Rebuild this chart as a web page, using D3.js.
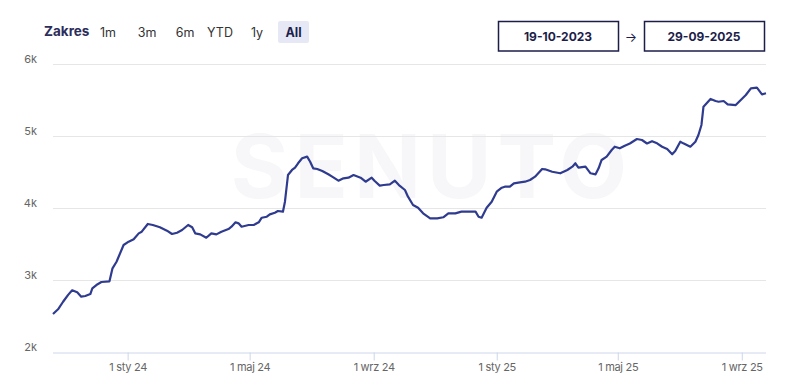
<!DOCTYPE html>
<html><head><meta charset="utf-8">
<script src="https://cdn.jsdelivr.net/npm/d3@7"></script>
<style>
body{margin:0;background:#fff;}
svg{display:block;font-family:Inter,"Open Sans",sans-serif;}
</style></head><body>
<svg id="c" width="788" height="383"></svg>
<script>
const dates = ["2023-10-19","2023-10-24","2023-10-29","2023-11-03","2023-11-07","2023-11-12","2023-11-16","2023-11-20","2023-11-25","2023-11-27","2023-12-01","2023-12-06","2023-12-14","2023-12-17","2023-12-21","2023-12-28","2024-01-02","2024-01-07","2024-01-12","2024-01-15","2024-01-21","2024-01-26","2024-02-02","2024-02-09","2024-02-14","2024-02-19","2024-02-24","2024-03-01","2024-03-05","2024-03-08","2024-03-13","2024-03-19","2024-03-24","2024-03-29","2024-04-03","2024-04-10","2024-04-13","2024-04-17","2024-04-20","2024-04-23","2024-04-30","2024-05-05","2024-05-10","2024-05-13","2024-05-18","2024-05-21","2024-05-26","2024-05-29","2024-06-03","2024-06-05","2024-06-08","2024-06-12","2024-06-15","2024-06-18","2024-06-22","2024-06-27","2024-06-30","2024-07-03","2024-07-07","2024-07-12","2024-07-18","2024-07-23","2024-07-28","2024-08-02","2024-08-07","2024-08-12","2024-08-19","2024-08-24","2024-08-30","2024-09-02","2024-09-07","2024-09-11","2024-09-17","2024-09-22","2024-09-26","2024-10-02","2024-10-05","2024-10-10","2024-10-15","2024-10-20","2024-10-27","2024-11-03","2024-11-09","2024-11-14","2024-11-21","2024-11-27","2024-12-04","2024-12-11","2024-12-14","2024-12-17","2024-12-22","2024-12-27","2025-01-01","2025-01-06","2025-01-09","2025-01-14","2025-01-18","2025-01-24","2025-01-29","2025-02-03","2025-02-08","2025-02-15","2025-02-18","2025-02-25","2025-03-05","2025-03-12","2025-03-17","2025-03-20","2025-03-23","2025-03-30","2025-04-04","2025-04-09","2025-04-12","2025-04-15","2025-04-20","2025-04-25","2025-04-28","2025-05-03","2025-05-08","2025-05-13","2025-05-20","2025-05-25","2025-05-30","2025-06-04","2025-06-09","2025-06-14","2025-06-19","2025-06-24","2025-06-27","2025-07-02","2025-07-05","2025-07-12","2025-07-17","2025-07-20","2025-07-23","2025-07-25","2025-08-01","2025-08-06","2025-08-09","2025-08-14","2025-08-18","2025-08-26","2025-08-31","2025-09-05","2025-09-10","2025-09-16","2025-09-21","2025-09-25"];
const values = [2535,2600,2705,2800,2864,2836,2775,2785,2812,2890,2937,2979,2988,3169,3261,3493,3539,3572,3655,3678,3785,3771,3739,3692,3646,3664,3701,3771,3739,3655,3641,3594,3655,3641,3678,3715,3747,3808,3794,3747,3771,3771,3808,3872,3886,3919,3942,3965,3956,4094,4465,4535,4567,4628,4697,4720,4650,4558,4549,4521,4475,4433,4386,4419,4428,4465,4428,4372,4428,4382,4317,4326,4336,4386,4326,4257,4164,4049,4011,3933,3864,3864,3878,3933,3933,3956,3956,3956,3886,3872,4011,4094,4233,4289,4303,4303,4350,4363,4372,4396,4442,4549,4544,4511,4489,4535,4581,4628,4567,4581,4489,4475,4558,4674,4720,4813,4858,4836,4872,4903,4965,4951,4903,4935,4905,4858,4826,4753,4798,4928,4905,4858,4928,5021,5160,5414,5521,5493,5483,5493,5447,5437,5507,5576,5669,5678,5586,5600];
const yTicks = [2000,3000,4000,5000,6000];
const yTickLabels = ["2k","3k","4k","5k","6k"];
const xTickDates = ["2024-01-01","2024-05-01","2024-09-01","2025-01-01","2025-05-01","2025-09-01"];
const xTickLabels = ["1 sty 24","1 maj 24","1 wrz 24","1 sty 25","1 maj 25","1 wrz 25"];
const rangeButtons = ["1m","3m","6m","YTD","1y","All"];
const startLabel = "19-10-2023", endLabel = "29-09-2025";

const parse = d3.timeParse("%Y-%m-%d");
const data = dates.map((d,i)=>({date:parse(d), value:values[i]}));
const svg = d3.select("#c");
const L=53, R=766, T=64.5, B=352.5;
const x = d3.scaleTime().domain(d3.extent(data,d=>d.date)).range([L,R]);
const y = d3.scaleLinear().domain([2000,6000]).range([B,T]);

// watermark
svg.append("text").attr("x",432).attr("y",198).attr("text-anchor","middle")
  .attr("font-size",88).attr("font-weight",700).attr("letter-spacing",6)
  .attr("fill","#f7f7f9").text("SENUTO");

// gridlines
svg.append("g").selectAll("line").data(yTicks.slice(1)).join("line")
  .attr("x1",L).attr("x2",R).attr("y1",d=>y(d)).attr("y2",d=>y(d))
  .attr("stroke","#e6e6e6").attr("stroke-width",1);
// y labels
svg.append("g").selectAll("text").data(yTicks).join("text")
  .attr("x",37).attr("y",d=>y(d)-2).attr("text-anchor","end")
  .attr("font-size",11).attr("fill","#666").text((d,i)=>yTickLabels[i]);

// x axis
const xAxis = d3.axisBottom(x).tickValues(xTickDates.map(parse))
  .tickFormat((d,i)=>xTickLabels[i]).tickSize(8).tickPadding(3);
const gx = svg.append("g").attr("transform",`translate(0,${B})`).call(xAxis);
gx.select(".domain").attr("stroke","#ccd6eb").attr("d",`M${L},0.5H${R}`);
gx.selectAll(".tick line").attr("stroke","#ccd6eb");
gx.selectAll(".tick text").attr("fill","#666").attr("font-size",11)
  .attr("font-family","Inter,'Open Sans',sans-serif").attr("letter-spacing",-0.3);

// line
svg.append("path").datum(data)
  .attr("fill","none").attr("stroke","#2f3b8f").attr("stroke-width",2.2)
  .attr("stroke-linejoin","round")
  .attr("d", d3.line().x(d=>x(d.date)).y(d=>y(d.value)));

// range selector
svg.append("text").attr("x",44).attr("y",36).attr("font-size",13.5)
  .attr("font-weight",700).attr("fill","#2b2d5c").text("Zakres");
const btnX = [108,147,185,220,257,293.5];
svg.append("rect").attr("x",278).attr("y",21).attr("width",31).attr("height",22)
  .attr("rx",2).attr("fill","#e6e9f5");
svg.append("g").selectAll("text").data(rangeButtons).join("text")
  .attr("x",(d,i)=>btnX[i]).attr("y",37).attr("text-anchor","middle")
  .attr("font-size",12.5).attr("font-weight",d=>d==="All"?700:400)
  .attr("fill",d=>d==="All"?"#1c1f4d":"#333").text(d=>d);

// date boxes
[[498,startLabel],[644,endLabel]].forEach(([bx,t])=>{
  svg.append("rect").attr("x",bx+0.5).attr("y",21.5).attr("width",120).attr("height",29.5)
    .attr("fill","#fff").attr("stroke","#1c1d4a").attr("stroke-width",1.5);
  svg.append("text").attr("x",bx+60).attr("y",41).attr("text-anchor","middle")
    .attr("font-size",12).attr("font-weight",700).attr("fill","#1c1d4a").text(t);
});
svg.append("text").attr("x",631).attr("y",42).attr("text-anchor","middle")
  .attr("font-size",13).attr("fill","#1c1d4a").text("→");
</script></body></html>
